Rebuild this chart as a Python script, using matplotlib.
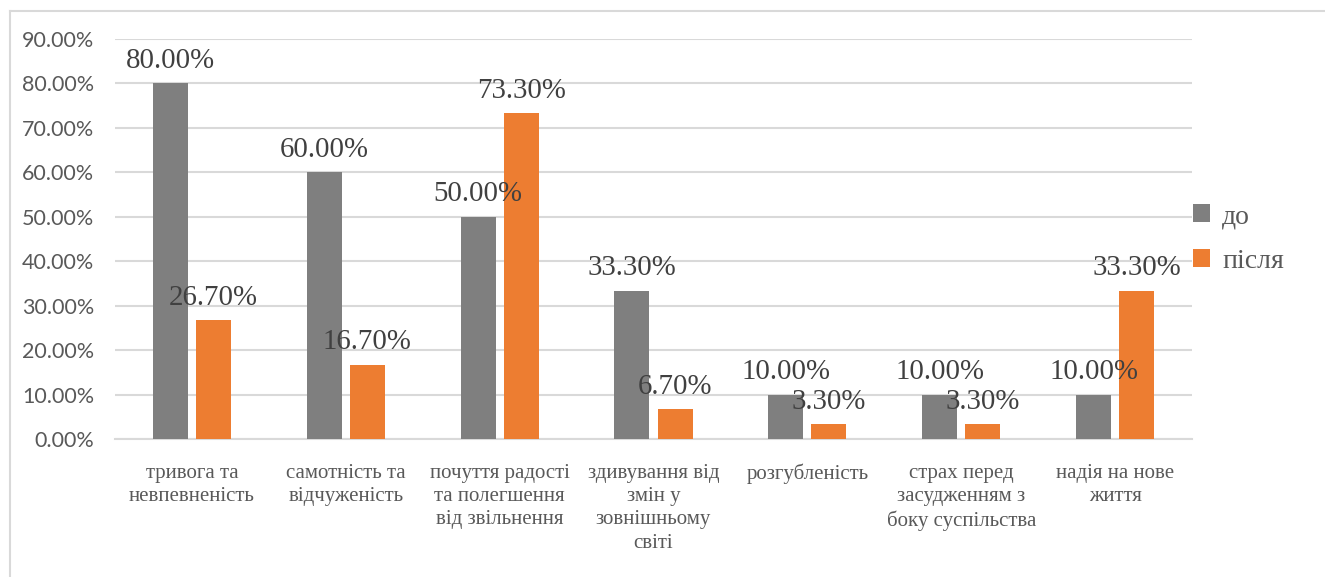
import matplotlib
matplotlib.use("Agg")
import matplotlib.pyplot as plt
import numpy as np
from matplotlib.patches import Patch
from matplotlib.lines import Line2D
from matplotlib.ticker import FuncFormatter, MultipleLocator

categories = [
    "тривога та\nневпевненість",
    "самотність та\nвідчуженість",
    "почуття радості\nта полегшення\nвід звільнення",
    "здивування від\nзмін у\nзовнішньому\nсвіті",
    "розгубленість",
    "страх перед\nзасудженням з\nбоку суспільства",
    "надія на нове\nжиття",
]
series_names = ["до", "після"]
before = [0.80, 0.60, 0.50, 0.333, 0.10, 0.10, 0.10]
after = [0.267, 0.167, 0.733, 0.067, 0.033, 0.033, 0.333]

colors = ["#7f7f7f", "#ed7d31"]
W, H = 1325, 577
fig = plt.figure(figsize=(W / 100, H / 100), dpi=100)
ax = fig.add_axes([115 / W, 1 - 439 / H, (1192 - 115) / W, (439 - 39) / H])

x = np.arange(len(categories))
bw = 0.228
off = 0.14
serif = ["Liberation Serif", "DejaVu Serif"]
sans = ["Lato", "DejaVu Sans"]

for vals, dx, c in [(before, -off, colors[0]), (after, off, colors[1])]:
    bars = ax.bar(x + dx, vals, width=bw, color=c, zorder=3)
    for b, v in zip(bars, vals):
        ax.annotate(f"{v*100:.2f}%", (b.get_x() + b.get_width() / 2, v),
                    xytext=(0, 7), textcoords="offset points",
                    ha="center", va="bottom", fontsize=20.8,
                    family=serif, color="#404040", zorder=4)

ax.set_xlim(-0.5, len(categories) - 0.5)
ax.set_ylim(0, 0.9)
ax.yaxis.set_major_locator(MultipleLocator(0.1))
ax.yaxis.set_major_formatter(FuncFormatter(lambda v, p: f"{v*100:.2f}%"))
ax.grid(axis="y", color="#d9d9d9", linewidth=1.5, zorder=0)
ax.set_axisbelow(True)
for s in ["top", "right", "left"]:
    ax.spines[s].set_visible(False)
ax.spines["bottom"].set_color("#d9d9d9")
ax.spines["bottom"].set_linewidth(1.5)
ax.tick_params(axis="y", length=0, pad=15, labelsize=15.5, labelcolor="#595959")
ax.tick_params(axis="x", length=0, pad=18)
for t in ax.get_yticklabels():
    t.set_family(sans)
ax.set_xticks(x)
ax.set_xticklabels(categories, fontsize=15, color="#595959", family=serif,
                   linespacing=1.3, va="top", ha="center")

handles = [Patch(facecolor=colors[0]), Patch(facecolor=colors[1])]
fig.legend(handles, series_names, loc="center left",
           bbox_to_anchor=(1193 / W, 1 - 239 / H), frameon=False,
           prop={"family": serif, "size": 20}, handlelength=0.6,
           handleheight=0.6, handletextpad=0.45, labelspacing=0.72,
           borderpad=0, borderaxespad=0, labelcolor="#595959")

# chart border (top and left visible)
fig.add_artist(Line2D([10 / W, 1.0], [1 - 11 / H, 1 - 11 / H], transform=fig.transFigure,
                      color="#d9d9d9", linewidth=1.5))
fig.add_artist(Line2D([10 / W, 10 / W], [0, 1 - 11 / H], transform=fig.transFigure,
                      color="#d9d9d9", linewidth=1.5))

fig.savefig("out.png", dpi=100, facecolor="white")
